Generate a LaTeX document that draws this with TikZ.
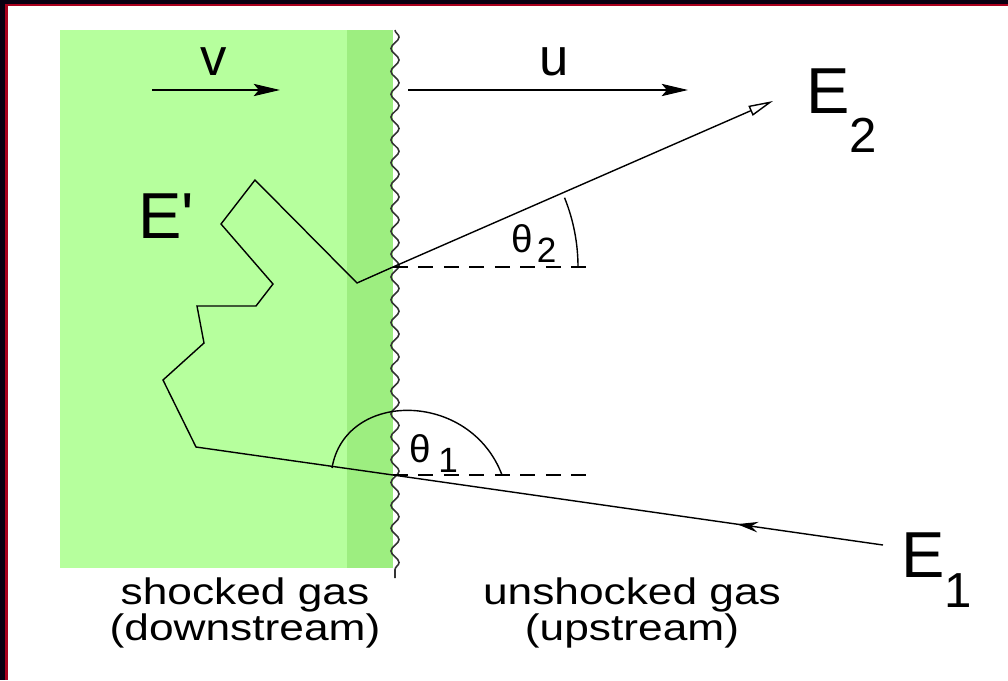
\documentclass[tikz,border=0pt]{standalone}
\usepackage{fontspec}
\setmainfont{Liberation Sans}
\newfontfamily\widefont[FakeStretch=1.2]{Liberation Sans}
\usepackage{tikz}
\usetikzlibrary{calc, arrows.meta, decorations.pathmorphing, decorations.markings}
\definecolor{gasgreen}{RGB}{182, 255, 157}
\definecolor{frontgreen}{RGB}{157, 238, 128}
\definecolor{slidered}{RGB}{170, 0, 30}
\definecolor{slideblack}{RGB}{10, 0, 18}
\tikzstyle{flowArrow} = [line width=0.9pt, -{Stealth[length=15pt, width=7pt, inset=3pt]}, draw=black]
\tikzstyle{pathLine} = [line width=0.8pt, draw=black, line join=miter]
\tikzstyle{outArrow} = [pathLine, -{Triangle[open, length=14pt, width=6pt]}]
\tikzstyle{refLine} = [line width=0.8pt, dash pattern=on 8.5pt off 6pt]
\tikzstyle{angleArc} = [line width=0.8pt]
\tikzstyle{shockFront} = [line width=0.9pt, draw=black!80, decorate,
	decoration={snake, segment length=13pt, amplitude=2.3pt}]
\tikzstyle{bigLabel} = [anchor=base west, inner sep=0pt, font=\fontsize{37}{40}\selectfont]
\tikzstyle{velLabel} = [anchor=base west, inner sep=0pt, font=\fontsize{30}{32}\selectfont]
\tikzstyle{angLabel} = [anchor=base west, inner sep=0pt, font=\fontsize{22}{24}\selectfont]
\tikzstyle{gasLabel} = [anchor=north, inner sep=0pt, align=center,
	font=\widefont\fontsize{21}{21}\selectfont]
\newcommand{\lowsub}[3]{\raisebox{#1}{\fontsize{#2}{#2}\selectfont #3}}

\begin{document}
\begin{tikzpicture}[x=0.02cm, y=-0.02cm]
  \useasboundingbox (0,0) rectangle (1008,680);
  \fill [white] (0,0) rectangle (1008,680);
  % slide frame
  \fill [slideblack] (0,0) rectangle (1008,4);
  \fill [slideblack] (0,0) rectangle (5,680);
  \fill [slidered] (5,4) rectangle (1008,6);
  \fill [slidered] (5,4) rectangle (8,680);

  % downstream gas
  \fill [gasgreen] (60,30) rectangle (393,568);
  \fill [frontgreen] (347,30) rectangle (393,568);
  \draw [shockFront] (395,30) -- (395,578);

  \coordinate (EONE) at (883,545);
  \coordinate (HITONE) at (393,475);
  \coordinate (HITTWO) at (393,267);
  \coordinate (ETIP) at (773,101);
  \coordinate (Z1) at (196,447);
  \coordinate (Z2) at (163,380);
  \coordinate (Z3) at (204,343);
  \coordinate (Z4) at (197,306);
  \coordinate (Z5) at (256,306);
  \coordinate (Z6) at (273,284);
  \coordinate (Z7) at (221,224);
  \coordinate (Z8) at (255,180);
  \coordinate (Z9) at (357,283);

  \draw [refLine] (HITTWO) -- ++(197,0);
  \draw [refLine] (HITONE) -- ++(202,0);
  \draw [angleArc] ($(HITTWO)+(185,0)$) arc[start angle=0, end angle=-22, radius=185];
  \draw [angleArc] (332,468) .. controls (345,390) and (470,390) .. (502,475);

  \draw [pathLine, postaction={decorate}, decoration={markings,
      mark=at position 2.95cm with {\arrow{Stealth[length=12pt, width=6pt]}}}]
    (EONE) -- (HITONE) -- (Z1) -- (Z2) -- (Z3) -- (Z4) -- (Z5) -- (Z6) -- (Z7)
    -- (Z8) -- (Z9) -- (HITTWO);
  \draw [outArrow] (HITTWO) -- (ETIP);

  \draw [flowArrow] (152,90) -- (280,90);
  \draw [flowArrow] (408,90) -- (688,90);

  \node (VLAB) [velLabel] at (200,75) {v};
  \node (ULAB) [velLabel] at (539,75) {u};
  \node (EPRIME) [bigLabel] at (138,238) {E\textquotesingle};
  \node (ETWO) [bigLabel] at (806,113) {E\lowsub{-0.8cm}{28pt}{2}};
  \node (EONELAB) [bigLabel] at (901,577) {E\lowsub{-0.6cm}{28pt}{1}};
  \node (THTWO) [angLabel] at (511,252) {θ\hspace{0.08cm}\lowsub{-0.2cm}{20pt}{2}};
  \node (THONE) [angLabel] at (409,462) {θ\hspace{0.15cm}\lowsub{-0.2cm}{20pt}{1}};
  \node (DOWN) [gasLabel] at (245,577) {shocked gas\\(downstream)};
  \node (UP) [gasLabel] at (632,577) {unshocked gas\\(upstream)};
\end{tikzpicture}
\end{document}
